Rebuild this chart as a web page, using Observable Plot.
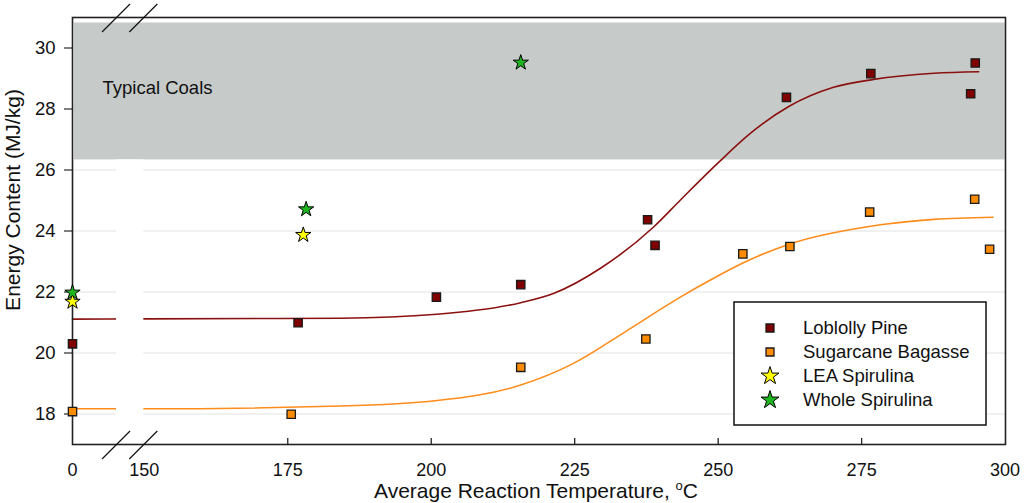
<!DOCTYPE html>
<html><head><meta charset="utf-8">
<script src="https://cdn.jsdelivr.net/npm/d3@7"></script>
<script src="https://cdn.jsdelivr.net/npm/@observablehq/plot@0.6"></script>
<style>
body{margin:0;background:#fff;font-family:"Liberation Sans",Arial,sans-serif;}
#wrap{position:relative;width:1024px;height:503px;}
</style></head><body><div id="wrap"></div>
<script>
// ---- data ----
const pineX = [0, 176.8, 200.9, 215.6, 237.7, 239.0, 261.9, 276.6, 294.8, 294.0];
const pineY = [20.30, 20.99, 21.83, 22.24, 24.37, 23.53, 28.38, 29.16, 29.51, 28.50];
const caneX = [0, 175.6, 215.6, 237.4, 254.3, 262.5, 276.4, 294.7, 297.3];
const caneY = [18.08, 17.99, 19.53, 20.46, 23.25, 23.49, 24.62, 25.04, 23.40];
const leaX = [0, 177.7];
const leaY = [21.68, 23.87];
const wholeX = [0, 178.2, 215.6];
const wholeY = [21.98, 24.71, 29.52];
// fitted curves
const pineFitX = [0, 150, 184.2, 201.0, 215.6, 221.4, 229.5, 238.8, 243.6, 249.8, 255.6, 262.3, 270.1, 277.1, 287.6, 295.4];
const pineFitY = [21.11, 21.12, 21.14, 21.27, 21.65, 21.96, 22.78, 24.14, 25.05, 26.20, 27.20, 28.08, 28.71, 28.97, 29.17, 29.22];
const caneFitX = [0, 150, 184.2, 201.0, 215.6, 224.8, 233.6, 243.4, 249.2, 254.3, 262.9, 276.0, 287.6, 297.9];
const caneFitY = [18.17, 18.17, 18.26, 18.44, 18.95, 19.66, 20.67, 21.83, 22.45, 22.95, 23.60, 24.14, 24.38, 24.45];
const xTicks = [0, 150, 175, 200, 225, 250, 275, 300];
const xInnerTicks = [175, 200, 225, 250, 275];
const yTicks = [18, 20, 22, 24, 26, 28, 30];
const coalBand = [{lo: 26.33, hi: 30.82, label: "Typical Coals"}];
const axisBreak = [{from: 92, to: 149}];
const seriesNames = ["Loblolly Pine", "Sugarcane Bagasse", "LEA Spirulina", "Whole Spirulina"];
const seriesFill = ["#800000", "#ff8c00", "#ffff00", "#1fb51f"];
const seriesSymbol = ["square", "square", "star", "star"];

const pts = (xs, ys) => xs.map((x, i) => ({x, y: ys[i]}));
const pine = pts(pineX, pineY), cane = pts(caneX, caneY), lea = pts(leaX, leaY), whole = pts(wholeX, wholeY);
const pineFit = pts(pineFitX, pineFitY), caneFit = pts(caneFitX, caneFitY);

const font = '"Liberation Sans", Arial, sans-serif';
const plot = Plot.plot({
  width: 1024, height: 503,
  marginLeft: 72, marginRight: 19, marginTop: 17, marginBottom: 59,
  style: {fontFamily: font, background: "#fff", overflow: "visible"},
  x: {type: "linear", domain: [0, 150, 300], range: [72, 143.8, 1004.6]},
  y: {domain: [17, 31]},
  marks: [
    Plot.ruleY(yTicks, {stroke: "#e2e2e2", strokeWidth: 1}),
    Plot.rect(coalBand, {x1: 0, x2: 300, y1: "lo", y2: "hi", fill: "#c6cbc9", insetLeft: 2}),
    Plot.text(coalBand, {text: "label", frameAnchor: "top-left", dx: 30, dy: 63, textAnchor: "start", fontSize: 18.5, fill: "#111"}),
    Plot.line(pineFit, {x: "x", y: "y", curve: "monotone-x", stroke: "#8b1010", strokeWidth: 1.6}),
    Plot.line(caneFit, {x: "x", y: "y", curve: "monotone-x", stroke: "#ff8c1a", strokeWidth: 1.6}),
    Plot.rect(axisBreak, {x1: "from", x2: "to", y1: 17.05, y2: coalBand[0].lo, fill: "#fff"}),
    Plot.frame({stroke: "#222", strokeWidth: 1.6}),
    Plot.ruleX(xInnerTicks, {y1: 17, y2: 17, insetBottom: 6, stroke: "#222", strokeWidth: 1.3}),
    Plot.axisX({ticks: xTicks, tickSize: 0, tickPadding: 19, fontSize: 18, label: null, tickFormat: d => String(d), fill: "#111"}),
    Plot.axisY({ticks: yTicks, tickSize: 8, tickPadding: 9, fontSize: 18.5, label: null, fill: "#111"}),
    Plot.dot(pine, {x: "x", y: "y", symbol: "square", r: 4.7, fill: seriesFill[0], stroke: "#1a1a1a", strokeWidth: 1.3}),
    Plot.dot(cane, {x: "x", y: "y", symbol: "square", r: 4.7, fill: seriesFill[1], stroke: "#1a1a1a", strokeWidth: 1.3}),
    Plot.dot(lea, {x: "x", y: "y", symbol: "star", r: 4.8, fill: seriesFill[2], stroke: "#000", strokeWidth: 1}),
    Plot.dot(whole, {x: "x", y: "y", symbol: "star", r: 4.8, fill: seriesFill[3], stroke: "#000", strokeWidth: 1})
  ]
});
document.getElementById("wrap").appendChild(plot);

const svg = d3.select(plot);
const sx = plot.scale("x"), sy = plot.scale("y");
// axis break marks
const [yTop, yBot] = [sy.apply(31), sy.apply(17)];
const bx = [sx.apply(axisBreak[0].from), sx.apply(axisBreak[0].to)];
const g = svg.append("g").attr("stroke", "#111").attr("stroke-width", 1.2);
for (const cy of [yTop + 1, yBot + 1]) for (const cx of bx) {
  g.append("line").attr("x1", cx - 14).attr("y1", cy + 14).attr("x2", cx + 14).attr("y2", cy - 14);
}
// axis titles
const xt = svg.append("text").attr("x", 536).attr("y", 498).attr("text-anchor", "middle")
  .attr("font-size", 21).attr("font-family", font).attr("fill", "#111");
xt.append("tspan").text("Average Reaction Temperature, ");
xt.append("tspan").attr("font-size", 13).attr("dy", -8).text("o");
xt.append("tspan").attr("dy", 8).text("C");
svg.append("text").attr("transform", "translate(20,200) rotate(-90)").attr("text-anchor", "middle")
  .attr("font-size", 21).attr("font-family", font).attr("fill", "#111").text("Energy Content (MJ/kg)");
// legend
const lg = svg.append("g").attr("text-anchor", "start");
lg.append("rect").attr("x", 734).attr("y", 302).attr("width", 252).attr("height", 123)
  .attr("fill", "#fff").attr("stroke", "#111").attr("stroke-width", 1.5);
seriesNames.forEach((name, i) => {
  const cy = 328 + i * 24;
  const isStar = seriesSymbol[i] === "star";
  const sym = d3.symbol(isStar ? d3.symbolStar : d3.symbolSquare, isStar ? 100 : 64);
  lg.append("path").attr("d", sym()).attr("transform", `translate(770,${cy})`)
    .attr("fill", seriesFill[i]).attr("stroke", isStar ? "#000" : "#1a1a1a").attr("stroke-width", isStar ? 1 : 1.3);
  lg.append("text").attr("x", 803).attr("y", cy).attr("dy", "0.35em").attr("text-anchor", "start").attr("font-size", 18.5)
    .attr("font-family", font).attr("fill", "#111").text(name);
});
</script></body></html>
